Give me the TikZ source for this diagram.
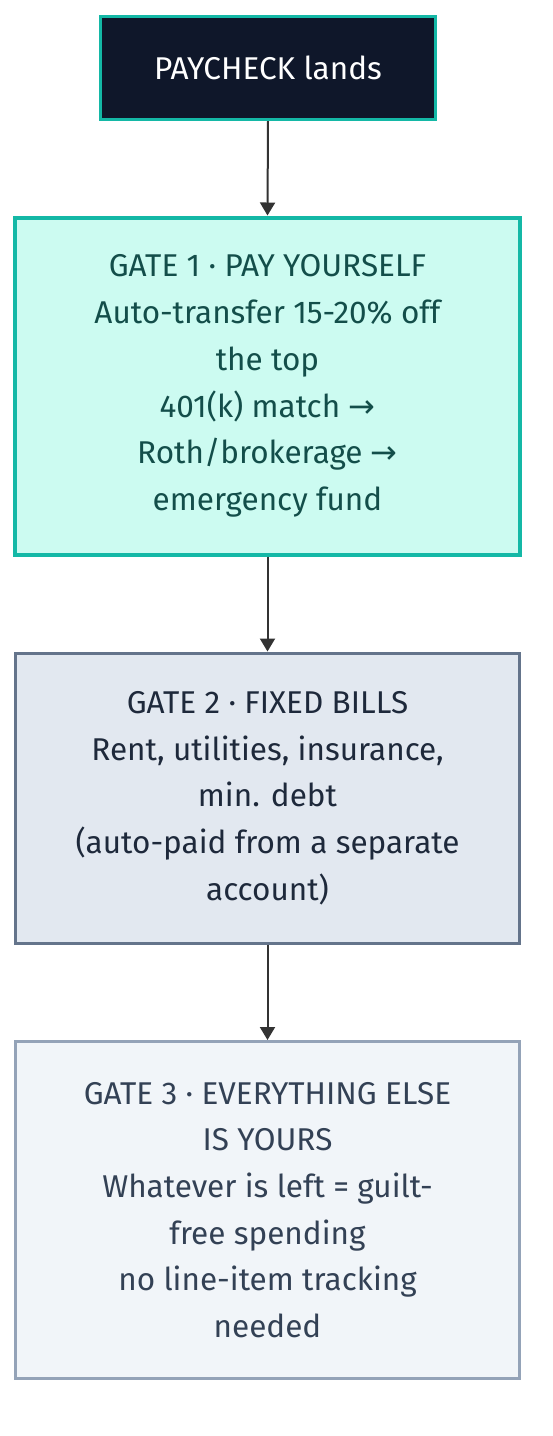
\documentclass[tikz,border=0pt]{standalone}
\usepackage{fontspec}
\setmainfont{Fira Sans}
\newfontfamily\arrfont{DejaVu Sans}
\usetikzlibrary{arrows.meta}
\definecolor{payfill}{HTML}{0F172A}
\definecolor{teal}{HTML}{14B8A6}
\definecolor{gonefill}{HTML}{CCFBF1}
\definecolor{gonetext}{HTML}{134E4A}
\definecolor{gtwofill}{HTML}{E2E8F0}
\definecolor{gtwodraw}{HTML}{64748B}
\definecolor{gtwotext}{HTML}{1E293B}
\definecolor{gthreefill}{HTML}{F1F5F9}
\definecolor{gthreedraw}{HTML}{94A3B8}
\definecolor{gthreetext}{HTML}{334155}
\definecolor{arrowc}{HTML}{333333}
\newcommand{\rarr}{ {\arrfont\fontsize{32}{46.7}\selectfont →}}
\begin{document}
\begin{tikzpicture}[x=1pt,y=-1pt,
  box/.style={rectangle, inner sep=0pt, align=center, font=\fontsize{31.5}{46.7}\selectfont},
  flow/.style={draw=arrowc, line width=2pt, -{Triangle[width=15pt,length=13pt]}}]
\useasboundingbox (0,0) rectangle (552,1436);
\node[box, draw=teal, line width=3pt, fill=payfill, text=white, minimum width=335pt, minimum height=103pt] (pay) at (268,68) {PAYCHECK lands};
\node[box, draw=teal, line width=4pt, fill=gonefill, text=gonetext, minimum width=505pt, minimum height=337pt] (g1) at (267.5,386)
  {GATE 1 · PAY YOURSELF\\Auto-transfer 15-20\% off\\the top\\401(k) match\rarr\\Roth/brokerage\rarr\\emergency fund};
\node[box, draw=gtwodraw, line width=3pt, fill=gtwofill, text=gtwotext, minimum width=504pt, minimum height=290pt] (g2) at (267.5,798)
  {GATE 2 · FIXED BILLS\\Rent, utilities, insurance,\\min. debt\\(auto-paid from a separate\\account)};
\node[box, draw=gthreedraw, line width=3pt, fill=gthreefill, text=gthreetext, minimum width=504pt, minimum height=337pt] (g3) at (267.5,1210)
  {GATE 3 · EVERYTHING ELSE\\IS YOURS\\Whatever is left = guilt-\\free spending\\no line-item tracking\\needed};
\draw[flow] (pay.south) -- (g1.north);
\draw[flow] (g1.south) -- (g2.north);
\draw[flow] (g2.south) -- (g3.north);
\end{tikzpicture}
\end{document}
